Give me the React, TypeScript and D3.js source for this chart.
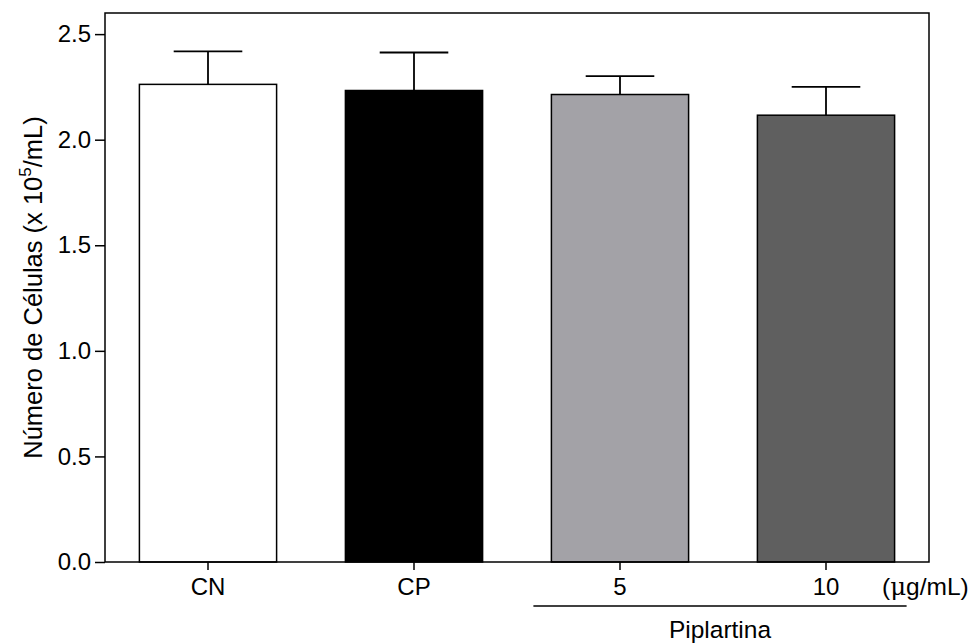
import React, { useEffect, useRef } from "react";
import * as d3 from "d3";

const groups = ["CN", "CP", "5", "10"];
const means = [2.262, 2.233, 2.214, 2.116];
const errors = [0.156, 0.18, 0.087, 0.134];
const fills = ["#ffffff", "#000000", "#a3a2a7", "#5f5f5f"];
const yTicks = [0.0, 0.5, 1.0, 1.5, 2.0, 2.5];

const App: React.FC = () => {
  const ref = useRef<SVGSVGElement | null>(null);

  useEffect(() => {
    const svg = d3.select(ref.current);
    svg.selectAll("*").remove();

    const width = 974;
    const height = 644;
    const margin = { top: 13, right: 45, bottom: 82, left: 105 };
    const font = "Arial, 'Liberation Sans', Helvetica, sans-serif";

    const x = d3
      .scaleBand()
      .domain(groups)
      .range([margin.left, width - margin.right])
      .paddingInner(0.334)
      .paddingOuter(0.167);

    const y = d3
      .scaleLinear()
      .domain([0, 2.6])
      .range([height - margin.bottom, margin.top]);

    const data = groups.map((g, i) => ({
      g,
      mean: means[i],
      err: errors[i],
      fill: fills[i],
    }));

    // error bars (upper only), drawn behind bars
    const eb = svg.append("g").attr("stroke", "#000").attr("stroke-width", 1.8);
    data.forEach((d) => {
      const cx = (x(d.g) || 0) + x.bandwidth() / 2;
      eb.append("line")
        .attr("x1", cx)
        .attr("x2", cx)
        .attr("y1", y(d.mean))
        .attr("y2", y(d.mean + d.err));
      eb.append("line")
        .attr("x1", cx - x.bandwidth() / 4)
        .attr("x2", cx + x.bandwidth() / 4)
        .attr("y1", y(d.mean + d.err))
        .attr("y2", y(d.mean + d.err));
    });

    svg
      .append("g")
      .selectAll("rect")
      .data(data)
      .enter()
      .append("rect")
      .attr("x", (d) => x(d.g) || 0)
      .attr("y", (d) => y(d.mean))
      .attr("width", x.bandwidth())
      .attr("height", (d) => y(0) - y(d.mean))
      .attr("fill", (d) => d.fill)
      .attr("stroke", "#000")
      .attr("stroke-width", 1.5);

    // frame
    svg
      .append("rect")
      .attr("x", margin.left)
      .attr("y", margin.top)
      .attr("width", width - margin.left - margin.right)
      .attr("height", height - margin.top - margin.bottom)
      .attr("fill", "none")
      .attr("stroke", "#000")
      .attr("stroke-width", 1.5);

    const yAxis = svg
      .append("g")
      .attr("transform", `translate(${margin.left},0)`)
      .call(
        d3
          .axisLeft(y)
          .tickValues(yTicks)
          .tickFormat(d3.format(".1f"))
          .tickSize(10)
          .tickPadding(4)
      );
    yAxis.select(".domain").remove();
    yAxis.selectAll("line").attr("stroke-width", 1.5);
    yAxis
      .selectAll("text")
      .attr("font-family", font)
      .attr("font-size", 24)
      .attr("fill", "#000");

    const xAxis = svg
      .append("g")
      .attr("transform", `translate(0,${height - margin.bottom})`)
      .call(d3.axisBottom(x).tickSize(8).tickPadding(8));
    xAxis.select(".domain").remove();
    xAxis.selectAll("line").attr("stroke-width", 1.5);
    xAxis
      .selectAll("text")
      .attr("font-family", font)
      .attr("font-size", 24)
      .attr("fill", "#000");

    // unit label
    const unit = svg
      .append("text")
      .attr("x", 882)
      .attr("y", 595)
      .attr("font-family", font)
      .attr("font-size", 24.5)
      .attr("fill", "#000");
    unit.append("tspan").text("(");
    unit
      .append("tspan")
      .attr("font-family", "'DejaVu Serif', 'Liberation Serif', serif")
      .text("μ");
    unit.append("tspan").text("g/mL)");

    // Piplartina bracket
    const x5 = x("5") || 0;
    const x10 = (x("10") || 0) + x.bandwidth();
    svg
      .append("line")
      .attr("x1", x5 - 18)
      .attr("x2", x10 + 12)
      .attr("y1", 606)
      .attr("y2", 606)
      .attr("stroke", "#000")
      .attr("stroke-width", 1.5);
    svg
      .append("text")
      .attr("x", (x5 - 18 + x10 + 12) / 2)
      .attr("y", 638)
      .attr("text-anchor", "middle")
      .attr("font-family", font)
      .attr("font-size", 24.5)
      .attr("fill", "#000")
      .text("Piplartina");

    // y title
    const title = svg
      .append("text")
      .attr("transform", "rotate(-90)")
      .attr("x", -(margin.top + (height - margin.bottom)) / 2)
      .attr("y", 42)
      .attr("text-anchor", "middle")
      .attr("font-family", font)
      .attr("font-size", 25.5)
      .attr("fill", "#000");
    title.append("tspan").text("Número de Células (x 10");
    title
      .append("tspan")
      .attr("font-size", 17)
      .attr("dy", -11)
      .text("5");
    title.append("tspan").attr("dy", 11).text("/mL)");
  }, []);

  return (
    <svg
      ref={ref}
      width={974}
      height={644}
      style={{ position: "absolute", left: 0, top: 0, background: "#fff" }}
    ></svg>
  );
};

export default App;
